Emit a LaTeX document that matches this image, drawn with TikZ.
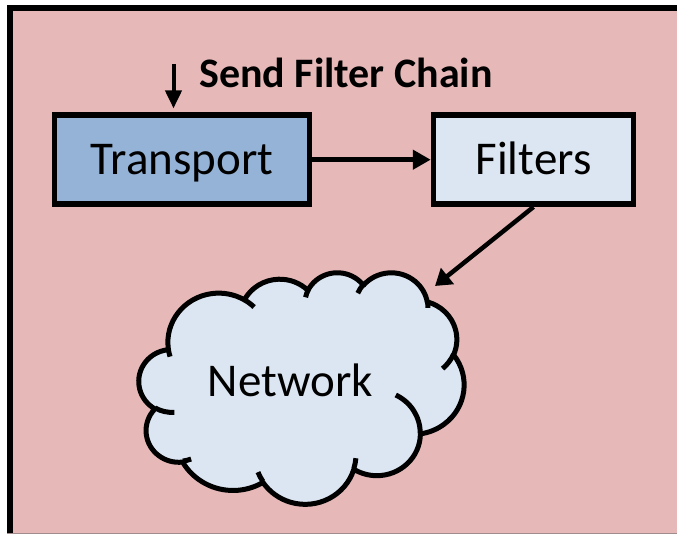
\documentclass[tikz,border=0pt]{standalone}
\usepackage{fontspec}
\setmainfont{Carlito}
\usetikzlibrary{arrows.meta}

\definecolor{panelpink}{RGB}{230,185,184}
\definecolor{deepblue}{RGB}{149,179,215}
\definecolor{paleblue}{RGB}{220,230,242}
\definecolor{edgeshade}{RGB}{160,140,140}

\begin{document}
\begin{tikzpicture}[x=1pt,y=-1pt,
  labelfont/.style={font=\fontsize{47}{52}\selectfont},
  box/.style={draw=black, line width=5.5pt, minimum height=89pt, inner sep=0pt,
              text height=30pt, text depth=0pt, labelfont},
  link/.style={line width=5pt, -{Triangle[length=18pt,width=19pt]}},
  cloudline/.style={draw=black, line width=5pt, line join=round},
]
\useasboundingbox (0,0) rectangle (677,534);
\fill[white] (0,0) rectangle (677,534);

% panel background with its heavy border (runs off the right and bottom)
\begin{scope}
  \clip (0,0) rectangle (677,534);
  \draw[line width=6pt, fill=panelpink] (10,8.5) rectangle (700,560);
  \fill[edgeshade] (7,532.5) rectangle (677,534);
\end{scope}

% cloud outline: eleven elliptical bumps given by radius and visual angles
% (units of 1/1000 of a 43.2 x 43.2 frame); angles converted to parametric ones
\def\cloudoutline{(3.900,14.370)}
\foreach \cw/\ch/\cst/\csw in {
  6.753/9.190/-190.487/123.781,
  5.333/7.267/-144.102/89.945,
  4.365/5.945/-145.808/99.723,
  4.857/6.595/-130.986/117.242,
  5.333/7.273/-78.709/109.027,
  6.775/9.220/-46.267/130.269,
  5.785/7.867/0.625/114.033,
  6.752/9.215/22.452/115.173,
  7.720/10.543/66.243/75.711,
  4.360/5.918/-274.942/146.736,
  4.345/5.945/-246.829/151.852}{
  \pgfmathsetmacro\tA{atan2(\cw*sin(\cst), \ch*cos(\cst))}
  \pgfmathsetmacro\tB{atan2(\cw*sin(\cst+\csw), \ch*cos(\cst+\csw))}
  \pgfmathsetmacro\dT{\tB-\tA}
  \pgfmathsetmacro\dT{ifthenelse(\csw>0, ifthenelse(\dT<0,\dT+360,\dT), ifthenelse(\dT>0,\dT-360,\dT))}
  \xdef\cloudoutline{\cloudoutline arc[start angle=\tA, delta angle=\dT, x radius=\cw, y radius=\ch]}
}
% short inner strokes between the bumps
\def\cloudticks{}
\foreach \px/\py/\cw/\ch/\cst/\csw in {
  4.693/26.177/4.345/5.945/86.742/26.430,
  6.928/34.899/4.360/5.918/73.610/11.447,
  16.478/39.090/6.752/9.215/137.624/14.081,
  28.827/34.751/6.752/9.215/6.453/15.998,
  34.129/22.954/5.785/7.867/-70.292/70.917,
  41.798/15.354/5.333/7.273/30.318/27.752,
  38.324/5.426/4.857/6.595/-13.744/14.859,
  29.078/3.952/4.857/6.595/-149.181/18.195,
  22.141/4.720/4.365/5.945/-163.494/17.686,
  14.000/5.192/6.753/9.190/-66.707/12.319,
  4.127/15.789/6.753/9.190/157.654/11.858}{
  \pgfmathsetmacro\tA{atan2(\cw*sin(\cst), \ch*cos(\cst))}
  \pgfmathsetmacro\tB{atan2(\cw*sin(\cst+\csw), \ch*cos(\cst+\csw))}
  \pgfmathsetmacro\dT{\tB-\tA}
  \pgfmathsetmacro\dT{ifthenelse(\csw>0, ifthenelse(\dT<0,\dT+360,\dT), ifthenelse(\dT>0,\dT-360,\dT))}
  \xdef\cloudticks{\cloudticks (\px,\py) arc[start angle=\tA, delta angle=\dT, x radius=\cw, y radius=\ch]}
}

\begin{scope}[shift={(139,272)}, x=1pt, y=1pt, xscale=325/43.2, yscale=-231.5/43.2]
  \filldraw[cloudline, fill=paleblue] \cloudoutline -- cycle;
  \draw[cloudline] \cloudticks;
\end{scope}

% nodes
\node[box, fill=deepblue, minimum width=255pt] (transport) at (182,159.7) {Transport};
\node[box, fill=paleblue, minimum width=200pt] (filters) at (533.5,159.7) {Filters};
\node[labelfont, anchor=base, inner sep=0pt] (network) at (290.3,396.7) {Network};
\node[font=\fontsize{42}{46}\selectfont\bfseries, anchor=base west, inner sep=0pt] (sendlabel) at (199,88) {Send Filter Chain};

% connectors
\coordinate (sendtop) at (173.5,64);
\coordinate (cloudentry) at (435,286);
\draw[link, line width=4pt, -{Triangle[length=18pt,width=16pt]}, shorten >=4pt]
  (sendtop) -- (transport.north -| sendtop);
\draw[link] (transport.east) -- (filters.west);
\draw[link, line width=4.5pt, -{Triangle[length=16pt,width=20pt]}] (filters.south) -- (cloudentry);
\end{tikzpicture}
\end{document}
